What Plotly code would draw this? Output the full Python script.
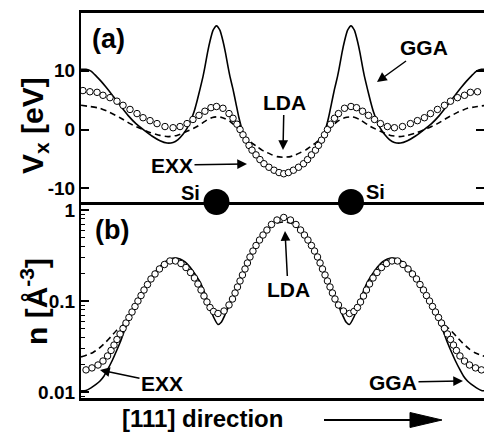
import plotly.graph_objects as go

# ---------------- data (x: position along [111] in Si-Si bond lengths) ----------------
# Panel (a): exchange potential Vx [eV]
EXX_A_X = [0.007, 0.059, 0.112, 0.156, 0.208, 0.260, 0.305, 0.357, 0.409, 0.454,
           0.506, 0.558, 0.617, 0.677, 0.729, 0.781, 0.825, 0.870, 0.914, 0.959,
           1.000, 1.048, 1.093, 1.123, 1.152, 1.175, 1.197, 1.219, 1.242, 1.264,
           1.294, 1.323, 1.353, 1.390, 1.428, 1.465, 1.500,
           1.535, 1.572, 1.610, 1.647, 1.677, 1.706, 1.736, 1.758, 1.781, 1.803,
           1.825, 1.848, 1.877, 1.907, 1.952, 2.000, 2.041, 2.086, 2.130, 2.175,
           2.219, 2.271, 2.323, 2.383, 2.442, 2.494, 2.546, 2.591, 2.643, 2.695,
           2.740, 2.792, 2.844, 2.888, 2.941, 2.993]
EXX_A_V = [6.6, 6.4, 6.3, 5.8, 5.4, 4.8, 4.1, 3.4, 2.7, 2.0,
           1.5, 1.0, 0.5, 0.3, 0.5, 1.0, 1.7, 2.4, 3.1, 3.7,
           3.9, 3.6, 2.7, 1.9, 0.9, 0.0, -0.9, -1.8, -2.7, -3.5,
           -4.3, -5.1, -5.8, -6.4, -6.9, -7.3, -7.5,
           -7.3, -6.9, -6.4, -5.8, -5.1, -4.3, -3.5, -2.7, -1.8, -0.9,
           0.0, 0.9, 1.9, 2.7, 3.6, 3.9, 3.7, 3.1, 2.4, 1.7,
           1.0, 0.5, 0.3, 0.5, 1.0, 1.5, 2.0, 2.7, 3.4, 4.1,
           4.8, 5.4, 5.8, 6.3, 6.4, 6.6]

GGA_A_X = [-0.007, 0.030, 0.067, 0.104, 0.141, 0.178, 0.223, 0.283, 0.342, 0.401,
           0.461, 0.520, 0.580, 0.632, 0.677, 0.714, 0.751, 0.781, 0.810, 0.833,
           0.855, 0.877, 0.900, 0.914, 0.933, 0.952, 0.974, 1.000, 1.026, 1.048,
           1.067, 1.086, 1.100, 1.123, 1.145, 1.167, 1.190, 1.212, 1.242, 1.264,
           1.294, 1.323, 1.353, 1.390, 1.428, 1.465, 1.500,
           1.535, 1.572, 1.610, 1.647, 1.677, 1.706, 1.736, 1.758, 1.788, 1.810,
           1.833, 1.855, 1.877, 1.900, 1.914, 1.933, 1.952, 1.974, 2.000, 2.026,
           2.048, 2.067, 2.086, 2.100, 2.123, 2.145, 2.167, 2.190, 2.219, 2.249,
           2.286, 2.323, 2.368, 2.420, 2.480, 2.539, 2.599, 2.658, 2.717, 2.777,
           2.822, 2.859, 2.896, 2.933, 2.970, 3.007]
GGA_A_V = [10.2, 10.2, 9.9, 9.1, 8.2, 7.2, 5.9, 4.1, 2.4, 1.0,
           -0.1, -1.1, -1.9, -2.3, -2.2, -1.7, -0.8, 0.2, 1.6, 3.0,
           4.8, 6.8, 9.0, 10.6, 13.0, 15.0, 16.8, 17.6, 16.8, 15.0,
           13.0, 10.6, 9.0, 6.8, 4.4, 2.0, 0.0, -1.4, -2.7, -3.5,
           -4.3, -5.1, -5.8, -6.4, -6.9, -7.3, -7.5,
           -7.3, -6.9, -6.4, -5.8, -5.1, -4.3, -3.5, -2.7, -1.4, 0.0,
           2.0, 4.4, 6.8, 9.0, 10.6, 13.0, 15.0, 16.8, 17.6, 16.8,
           15.0, 13.0, 10.6, 9.0, 6.8, 4.8, 3.0, 1.6, 0.2, -0.8,
           -1.7, -2.2, -2.3, -1.9, -1.1, -0.1, 1.0, 2.4, 4.1, 5.9,
           7.2, 8.2, 9.1, 9.9, 10.2, 10.2]

LDA_A_X = [-0.007, 0.059, 0.134, 0.208, 0.283, 0.357, 0.431, 0.506, 0.580, 0.639,
           0.706, 0.781, 0.855, 0.929, 0.970, 1.000, 1.040, 1.100, 1.152, 1.190,
           1.227, 1.264, 1.301, 1.338, 1.375, 1.413, 1.450, 1.500,
           1.550, 1.587, 1.625, 1.662, 1.699, 1.736, 1.773, 1.810, 1.848, 1.900,
           1.960, 2.000, 2.030, 2.071, 2.145, 2.219, 2.294, 2.361, 2.420, 2.494,
           2.569, 2.643, 2.717, 2.792, 2.866, 2.941, 3.007]
LDA_A_V = [4.1, 3.9, 3.6, 2.9, 2.0, 1.0, 0.2, -0.5, -1.0, -1.2,
           -1.0, -0.3, 0.5, 1.6, 2.05, 2.15, 2.05, 1.4, 0.3, -0.7,
           -1.5, -2.3, -2.9, -3.5, -3.9, -4.3, -4.6, -4.7,
           -4.6, -4.3, -3.9, -3.5, -2.9, -2.3, -1.5, -0.7, 0.3, 1.4,
           2.05, 2.15, 2.05, 1.6, 0.5, -0.3, -1.0, -1.2, -1.0, -0.5,
           0.2, 1.0, 2.0, 2.9, 3.6, 3.9, 4.1]

# Panel (b): electron density n [1/A^3]
EXX_B_X = [0.030, 0.074, 0.119, 0.156, 0.190, 0.216, 0.238, 0.260, 0.283, 0.305,
           0.327, 0.349, 0.372, 0.394, 0.416, 0.439, 0.461, 0.487, 0.513, 0.543,
           0.576, 0.613, 0.654, 0.695, 0.736, 0.773, 0.807, 0.836, 0.862, 0.885,
           0.907, 0.929, 0.952, 0.978, 1.011, 1.056, 1.093, 1.119, 1.138, 1.156,
           1.175, 1.193, 1.212, 1.230, 1.249, 1.271, 1.294, 1.320, 1.346, 1.375,
           1.409, 1.450, 1.500,
           1.550, 1.591, 1.625, 1.654, 1.680, 1.706, 1.729, 1.751, 1.770, 1.788,
           1.807, 1.825, 1.844, 1.862, 1.881, 1.907, 1.944, 1.989, 2.022, 2.048,
           2.071, 2.093, 2.115, 2.138, 2.164, 2.193, 2.227, 2.264, 2.305, 2.346,
           2.387, 2.424, 2.457, 2.487, 2.513, 2.539, 2.561, 2.584, 2.606, 2.628,
           2.651, 2.673, 2.695, 2.717, 2.740, 2.762, 2.784, 2.810, 2.844, 2.881,
           2.926, 2.970]
EXX_B_N = [0.0175, 0.0184, 0.0198, 0.0219, 0.0249, 0.0286, 0.0328, 0.0378, 0.0434, 0.0499,
           0.0573, 0.0659, 0.0757, 0.0871, 0.1000, 0.1148, 0.1321, 0.1517, 0.1746, 0.1982,
           0.2249, 0.2518, 0.2754, 0.2754, 0.2582, 0.2333, 0.2056, 0.1791, 0.1538, 0.1321,
           0.1135, 0.0975, 0.0849, 0.0767, 0.0729, 0.0776, 0.0904, 0.1052, 0.1225, 0.1426,
           0.1660, 0.1932, 0.2249, 0.2618, 0.3048, 0.3540, 0.4074, 0.4677, 0.5309, 0.6026,
           0.6934, 0.7762, 0.8279,
           0.7762, 0.6934, 0.6026, 0.5309, 0.4677, 0.4074, 0.3540, 0.3048, 0.2618, 0.2249,
           0.1932, 0.1660, 0.1426, 0.1225, 0.1052, 0.0904, 0.0776, 0.0729, 0.0767, 0.0849,
           0.0975, 0.1135, 0.1321, 0.1538, 0.1791, 0.2056, 0.2333, 0.2582, 0.2754, 0.2754,
           0.2518, 0.2249, 0.1982, 0.1746, 0.1517, 0.1321, 0.1148, 0.1000, 0.0871, 0.0757,
           0.0659, 0.0573, 0.0499, 0.0434, 0.0378, 0.0328, 0.0286, 0.0249, 0.0219, 0.0198,
           0.0184, 0.0175]

GGA_B_X = [-0.007, 0.030, 0.067, 0.104, 0.134, 0.164, 0.193, 0.223, 0.253, 0.283,
           0.312, 0.342, 0.372, 0.401, 0.431, 0.461, 0.491, 0.520, 0.550, 0.580,
           0.617, 0.654, 0.691, 0.729, 0.766, 0.803, 0.840, 0.877, 0.907, 0.933,
           0.955, 0.978, 1.011, 1.037, 1.063, 1.089, 1.115, 1.138, 1.156, 1.175,
           1.193, 1.212, 1.230, 1.249, 1.271, 1.294, 1.320, 1.346, 1.375, 1.409,
           1.450, 1.500,
           1.550, 1.591, 1.625, 1.654, 1.680, 1.706, 1.729, 1.751, 1.770, 1.788,
           1.807, 1.825, 1.844, 1.862, 1.885, 1.911, 1.937, 1.963, 1.989, 2.022,
           2.045, 2.067, 2.093, 2.123, 2.160, 2.197, 2.234, 2.271, 2.309, 2.346,
           2.383, 2.420, 2.450, 2.480, 2.509, 2.539, 2.569, 2.599, 2.628, 2.658,
           2.688, 2.717, 2.747, 2.777, 2.807, 2.836, 2.866, 2.896, 2.933, 2.970,
           3.007]
GGA_B_N = [0.0103, 0.0104, 0.0111, 0.0121, 0.0132, 0.0150, 0.0179, 0.0219, 0.0275, 0.0350,
           0.0456, 0.0588, 0.0738, 0.0927, 0.1079, 0.1303, 0.1556, 0.1858, 0.2138, 0.2393,
           0.2685, 0.2897, 0.2972, 0.2897, 0.2685, 0.2366, 0.1982, 0.1618, 0.1288, 0.1012,
           0.0817, 0.0667, 0.0552, 0.0588, 0.0702, 0.0859, 0.1052, 0.1225, 0.1426, 0.1660,
           0.1932, 0.2249, 0.2618, 0.3048, 0.3540, 0.4074, 0.4677, 0.5309, 0.6026, 0.6934,
           0.7762, 0.8279,
           0.7762, 0.6934, 0.6026, 0.5309, 0.4677, 0.4074, 0.3540, 0.3048, 0.2618, 0.2249,
           0.1932, 0.1660, 0.1426, 0.1225, 0.1052, 0.0859, 0.0702, 0.0588, 0.0552, 0.0667,
           0.0817, 0.1012, 0.1288, 0.1618, 0.1982, 0.2366, 0.2685, 0.2897, 0.2972, 0.2897,
           0.2685, 0.2393, 0.2138, 0.1858, 0.1556, 0.1303, 0.1079, 0.0927, 0.0738, 0.0588,
           0.0456, 0.0350, 0.0275, 0.0219, 0.0179, 0.0150, 0.0132, 0.0121, 0.0111, 0.0104,
           0.0103]

LDA_B_X = [-0.007, 0.037, 0.082, 0.126, 0.171, 0.216, 0.260, 0.305, 0.349, 0.372,
           0.394, 0.416, 0.439, 0.461, 0.487, 0.513, 0.543, 0.576, 0.613, 0.654,
           0.695, 0.736, 0.773, 0.807, 0.836, 0.862, 0.885, 0.907, 0.929, 0.952,
           0.978, 1.011, 1.056, 1.093, 1.119, 1.138, 1.156, 1.175, 1.193, 1.212,
           1.230, 1.249, 1.271, 1.294, 1.320, 1.346, 1.375, 1.409, 1.450, 1.500,
           1.550, 1.591, 1.625, 1.654, 1.680, 1.706, 1.729, 1.751, 1.770, 1.788,
           1.807, 1.825, 1.844, 1.862, 1.881, 1.907, 1.944, 1.989, 2.022, 2.048,
           2.071, 2.093, 2.115, 2.138, 2.164, 2.193, 2.227, 2.264, 2.305, 2.346,
           2.387, 2.424, 2.457, 2.487, 2.513, 2.539, 2.561, 2.584, 2.606, 2.628,
           2.651, 2.695, 2.740, 2.784, 2.829, 2.874, 2.918, 2.963, 3.007]
LDA_B_N = [0.0243, 0.0255, 0.0272, 0.0301, 0.0346, 0.0407, 0.0480, 0.0545, 0.0659, 0.0757,
           0.0871, 0.1000, 0.1148, 0.1321, 0.1517, 0.1746, 0.1982, 0.2249, 0.2518, 0.2754,
           0.2754, 0.2582, 0.2333, 0.2056, 0.1791, 0.1538, 0.1321, 0.1135, 0.0975, 0.0849,
           0.0767, 0.0729, 0.0776, 0.0904, 0.1052, 0.1225, 0.1426, 0.1660, 0.1932, 0.2249,
           0.2618, 0.3048, 0.3540, 0.4074, 0.4677, 0.526, 0.590, 0.667, 0.720, 0.740,
           0.720, 0.667, 0.590, 0.526, 0.4677, 0.4074, 0.3540, 0.3048, 0.2618, 0.2249,
           0.1932, 0.1660, 0.1426, 0.1225, 0.1052, 0.0904, 0.0776, 0.0729, 0.0767, 0.0849,
           0.0975, 0.1135, 0.1321, 0.1538, 0.1791, 0.2056, 0.2333, 0.2582, 0.2754, 0.2754,
           0.2518, 0.2249, 0.1982, 0.1746, 0.1517, 0.1321, 0.1148, 0.1000, 0.0871, 0.0757,
           0.0659, 0.0545, 0.0480, 0.0407, 0.0346, 0.0301, 0.0272, 0.0255, 0.0243]

ATOM_X = [1.0, 2.0]
ATOM_LABELS = ["Si", "Si"]

VX_TICKS = [-10, 0, 10]
VX_TICKTEXT = ["-10", "0", "10"]
N_TICKS = [0.01, 0.1, 1]
N_TICKTEXT = ["0.01", "0.1", "1"]

# ---------------- figure ----------------
FONT = "Liberation Sans"
W, H = 484, 433
L, R, T, B = 81, 0, 13, 35
PW, PH = W - L - R, H - T - B


def px(xp):
    return (xp - L) / PW


def py(yp):
    return (H - B - yp) / PH


SPLIT = py(202)
VA_RANGE = [-12.29, 19.75]
XR = [-0.0074, 2.989]

fig = go.Figure()
line_solid = dict(color="black", width=1.6, shape="spline", smoothing=0.5)
line_dash = dict(color="black", width=1.6, dash="6px,4px", shape="spline", smoothing=0.5)
marker_exx = dict(symbol="circle", size=6.5, color="white", line=dict(color="black", width=1))

# panel (a)
fig.add_trace(go.Scatter(x=LDA_A_X, y=LDA_A_V, mode="lines", line=line_dash, xaxis="x2", yaxis="y2"))
fig.add_trace(go.Scatter(x=GGA_A_X, y=GGA_A_V, mode="lines", line=line_solid, xaxis="x2", yaxis="y2"))
fig.add_trace(go.Scatter(x=EXX_A_X, y=EXX_A_V, mode="markers", marker=marker_exx, xaxis="x2", yaxis="y2"))
# panel (b)
fig.add_trace(go.Scatter(x=LDA_B_X, y=LDA_B_N, mode="lines", line=line_dash, xaxis="x", yaxis="y"))
fig.add_trace(go.Scatter(x=GGA_B_X, y=GGA_B_N, mode="lines", line=line_solid, xaxis="x", yaxis="y"))
fig.add_trace(go.Scatter(x=EXX_B_X, y=EXX_B_N, mode="markers", marker=marker_exx, xaxis="x", yaxis="y"))

# Si atoms sitting on the boundary between the two panels
fig.add_trace(go.Scatter(x=ATOM_X, y=[VA_RANGE[0] + 0.01] * len(ATOM_X), mode="markers",
                         marker=dict(symbol="circle", size=26, color="black"),
                         cliponaxis=False, xaxis="x2", yaxis="y2"))
# invisible trace so that the right-hand tick axis of panel (a) is drawn
fig.add_trace(go.Scatter(x=[XR[0]], y=[0], mode="markers", marker=dict(opacity=0),
                         xaxis="x2", yaxis="y3", hoverinfo="skip"))

tickfont = dict(family=FONT, size=19, color="black", weight="bold")
base_x = dict(range=XR, showticklabels=False, ticks="", showgrid=False, zeroline=False,
              showline=True, linewidth=2.5, linecolor="black", domain=[0, 1])

fig.update_layout(
    width=W, height=H, margin=dict(l=L, r=R, t=T, b=B),
    paper_bgcolor="white", plot_bgcolor="rgba(0,0,0,0)", showlegend=False,
    font=dict(family=FONT, color="black"),
    xaxis=dict(anchor="y", mirror=False, **base_x),
    xaxis2=dict(anchor="y2", mirror=True, **base_x),
    yaxis=dict(domain=[0, SPLIT], type="log", range=[-2.066, 0.088],
               tickvals=N_TICKS, ticktext=N_TICKTEXT, tickfont=tickfont,
               ticks="inside", ticklen=8, tickwidth=2, tickcolor="black",
               minor=dict(ticks="inside", ticklen=4, tickwidth=1.3, tickcolor="black",
                          dtick="D1", showgrid=False),
               showgrid=False, zeroline=False, showline=True, linewidth=2.2,
               linecolor="black", mirror=False, anchor="x"),
    yaxis2=dict(domain=[SPLIT, 1], range=VA_RANGE,
                tickvals=VX_TICKS, ticktext=VX_TICKTEXT, tickfont=tickfont,
                ticks="inside", ticklen=8, tickwidth=2, tickcolor="black",
                showgrid=False, zeroline=False, showline=True, linewidth=2.2,
                linecolor="black", mirror=False, anchor="x2"),
    yaxis3=dict(overlaying="y2", side="right", anchor="x2", range=VA_RANGE,
                tickvals=VX_TICKS, showticklabels=False,
                ticks="inside", ticklen=8, tickwidth=2, tickcolor="black",
                showgrid=False, zeroline=False, showline=False),
)

ann = []


def text(xp, yp, s, size, xanchor="center", **kw):
    ann.append(dict(x=px(xp), y=py(yp), xref="paper", yref="paper", text="<b>" + s + "</b>",
                    showarrow=False, xanchor=xanchor, yanchor="middle",
                    font=dict(family=FONT, size=size, color="black"), **kw))


def label_arrow(s, text_pos, tip, size=21):
    ann.append(dict(x=px(tip[0]), y=py(tip[1]), xref="paper", yref="paper",
                    text="<b>" + s + "</b>", showarrow=True,
                    ax=text_pos[0] - tip[0], ay=text_pos[1] - tip[1],
                    arrowhead=2, arrowsize=1.3, arrowwidth=1.5, arrowcolor="black",
                    font=dict(family=FONT, size=size, color="black")))


text(108, 39, "(a)", 27)
text(112, 230, "(b)", 27)
text(190, 193, ATOM_LABELS[0], 20)
text(375, 192, ATOM_LABELS[1], 20)
text(120, 419, "[111] direction", 24, xanchor="left")
text(34, 126, "V<sub>x</sub> [eV]", 30, textangle=-90)
text(34, 302, "n [Å<sup>-3</sup>]", 30, textangle=-90)

label_arrow("GGA", (424, 48), (377, 82))
label_arrow("LDA", (284, 102), (283, 150))
label_arrow("EXX", (172, 165), (247, 164))
label_arrow("LDA", (288, 289), (285, 231))
label_arrow("EXX", (162, 383), (100, 370))
label_arrow("GGA", (393, 382), (463, 381))

fig.update_layout(annotations=ann)

# long arrow next to the x-axis title
fig.add_shape(type="line", xref="paper", yref="paper", x0=px(324), x1=px(412), y0=py(420), y1=py(420),
              line=dict(color="black", width=2))
fig.add_shape(type="path", xref="paper", yref="paper",
              path=f"M {px(410)},{py(412.5)} L {px(442)},{py(420)} L {px(410)},{py(427.5)} Z",
              fillcolor="black", line=dict(color="black", width=1))

fig.write_html("out.html", config={"displayModeBar": False},
               post_script="document.body.style.margin='0';document.body.style.overflow='hidden';")
